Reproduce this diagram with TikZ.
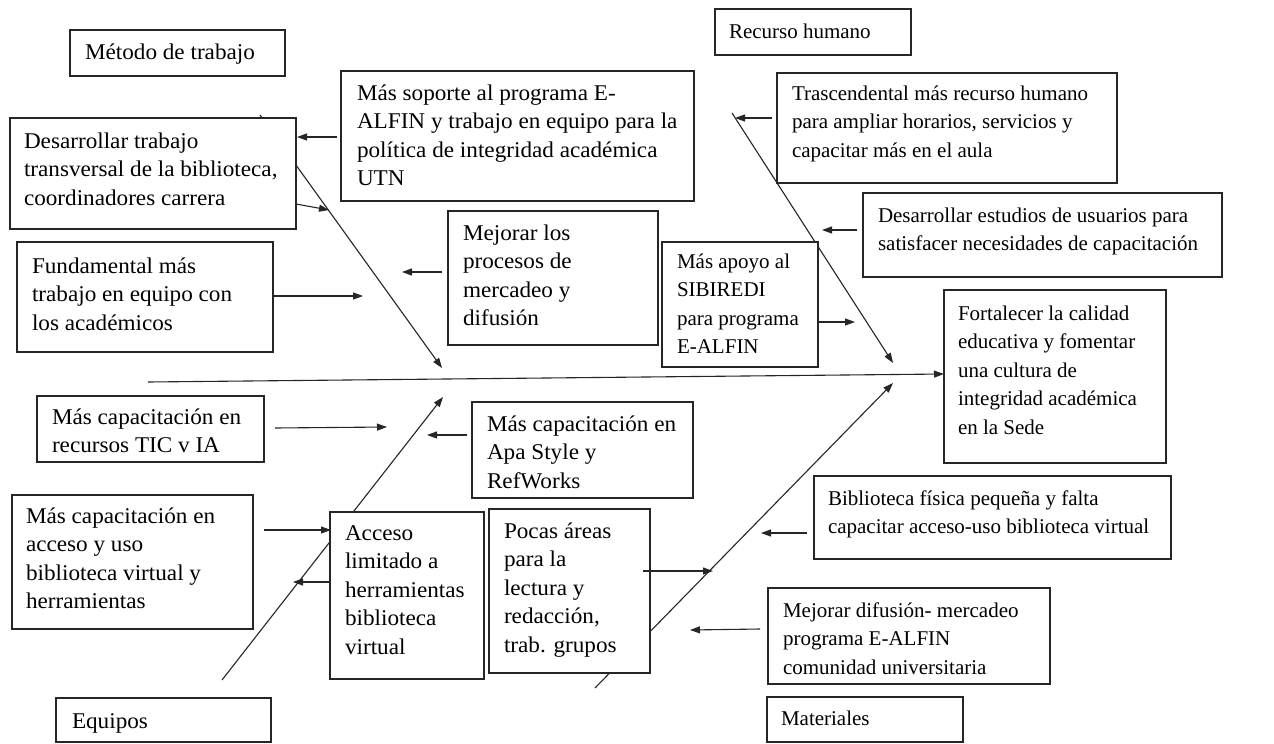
\documentclass[tikz,border=0pt]{standalone}
\usepackage{fontspec}
\setmainfont{Liberation Serif}
\newfontfamily\leftfont[FakeStretch=1.03]{Liberation Serif}
\usetikzlibrary{arrows.meta}
\newcommand\bxt[5]{\parbox[t][#2][t]{#1}{\vspace*{#3}\raggedright\leftskip=#4\relax\strut #5}}
\begin{document}
\begin{tikzpicture}[x=1pt,y=-1pt,
  box/.style={draw=black!85, fill=white, line width=1.1pt, anchor=north west, inner sep=0pt, outer sep=0pt, font=\fontsize{21}{28.6}\selectfont},
  lbox/.style={box, font=\leftfont\fontsize{22.5}{28.6}\selectfont},
  bone/.style={draw=black!85, line width=1.1pt, -{Triangle[length=10pt,width=7pt]}},
  conn/.style={draw=black!85, line width=1.1pt, -{Triangle[length=10pt,width=7pt]}}]
\fill[white] (0,0) rectangle (1274,744);
\useasboundingbox (0,0) rectangle (1274,744);

% spine and bones
\coordinate (sps) at (148,382);
\coordinate (d1s) at (260,115);
\coordinate (d1e) at (442,368);
\coordinate (d2s) at (732,113);
\coordinate (d2e) at (893,363);
\coordinate (d3s) at (222,680);
\coordinate (d3e) at (443,397);
\coordinate (d4s) at (595,688);
\coordinate (d4e) at (893,383);

% boxes
\node[lbox] (metodo) at (70,30) {\bxt{215pt}{46pt}{9pt}{15pt}{Método de trabajo}};
\node[box] (recurso) at (715,9) {\bxt{196pt}{46pt}{9pt}{14pt}{Recurso humano}};
\node[lbox] (equipos) at (56,698) {\bxt{215pt}{44pt}{10pt}{16pt}{Equipos}};
\node[box] (materiales) at (767,697) {\bxt{196pt}{45pt}{8pt}{14pt}{Materiales}};
\node[box] (fortalecer) at (944,290) {\bxt{222pt}{173pt}{10pt}{14pt}{Fortalecer la calidad\\ educativa y fomentar\\ una cultura de\\ integridad académica\\ en la Sede}};

\draw[bone] (sps) -- (fortalecer.west |- 0,374);
\draw[bone] (d1s) -- (d1e);
\draw[bone] (d2s) -- (d2e);
\draw[bone] (d3s) -- (d3e);
\draw[bone] (d4s) -- (d4e);

\node[lbox] (desarrollar) at (10,118) {\bxt{286pt}{111pt}{10pt}{14pt}{Desarrollar trabajo\\ transversal de la biblioteca,\\ coordinadores carrera}};
\node[lbox] (fundamental) at (17,242) {\bxt{256pt}{110pt}{11pt}{15pt}{Fundamental más\\ trabajo en equipo con\\ los académicos}};
\node[lbox] (soporte) at (341,71) {\bxt{353pt}{130pt}{9pt}{16pt}{Más soporte al programa E-\\ ALFIN y trabajo en equipo para la\\ política de integridad académica\\ UTN}};
\node[lbox] (mejorar) at (448,211) {\bxt{210pt}{134pt}{9pt}{15pt}{Mejorar los\\ procesos de\\ mercadeo y\\ difusión}};
\node[box] (apoyo) at (662,242) {\bxt{156pt}{125pt}{6pt}{15pt}{Más apoyo al\\ SIBIREDI\\ para programa\\ E-ALFIN}};
\node[box] (trascendental) at (777,73) {\bxt{340pt}{110pt}{7pt}{15pt}{Trascendental más recurso humano\\ para ampliar horarios, servicios y\\ capacitar más en el aula}};
\node[box] (estudios) at (863,193) {\bxt{359pt}{84pt}{9pt}{15pt}{Desarrollar estudios de usuarios para\\ satisfacer necesidades de capacitación}};
\node[lbox] (tic) at (37,396) {\bxt{227pt}{66pt}{8pt}{15pt}{Más capacitación en\\ recursos TIC v IA}};
\node[lbox] (accesouso) at (12,495) {\bxt{241pt}{134pt}{8pt}{14pt}{Más capacitación en\\ acceso y uso\\ biblioteca virtual y\\ herramientas}};
\node[lbox] (limitado) at (330,512) {\bxt{154pt}{167pt}{8pt}{15pt}{Acceso\\ limitado a\\ herramientas\\ biblioteca\\ virtual}};
\node[lbox] (apa) at (472,402) {\bxt{221pt}{96pt}{9pt}{15pt}{Más capacitación en\\ Apa Style y\\ RefWorks}};
\node[lbox] (pocas) at (489,509) {\bxt{161pt}{164pt}{9pt}{15pt}{Pocas áreas\\ para la\\ lectura y\\ redacción,\\ trab. grupos}};
\node[box] (biblioteca) at (814,476) {\bxt{357pt}{83pt}{9pt}{14pt}{Biblioteca física pequeña y falta\\ capacitar acceso-uso biblioteca virtual}};
\node[box] (difusion) at (768,588) {\bxt{282pt}{96pt}{9pt}{15pt}{Mejorar difusión- mercadeo\\ programa E-ALFIN\\ comunidad universitaria}};

% arrow end points
\coordinate (a1t) at (337,137); \coordinate (a1h) at (297,137);
\coordinate (a2t) at (296,204); \coordinate (a2h) at (329,210);
\coordinate (a3t) at (273,296); \coordinate (a3h) at (363,296);
\coordinate (a4t) at (442,272); \coordinate (a4h) at (402,272);
\coordinate (a5t) at (772,118); \coordinate (a5h) at (735,118);
\coordinate (a6t) at (857,230); \coordinate (a6h) at (822,230);
\coordinate (a7t) at (819,322); \coordinate (a7h) at (855,322);
\coordinate (a8t) at (275,428); \coordinate (a8h) at (387,427);
\coordinate (a9t) at (467,435); \coordinate (a9h) at (427,435);
\coordinate (a10t) at (264,530); \coordinate (a10h) at (331,530);
\coordinate (a11t) at (331,582); \coordinate (a11h) at (293,582);
\coordinate (a12t) at (643,571); \coordinate (a12h) at (713,571);
\coordinate (a13t) at (807,533); \coordinate (a13h) at (761,533);
\coordinate (a14t) at (760,629); \coordinate (a14h) at (690,630);

\foreach \i in {1,...,14} \draw[conn] (a\i t) -- (a\i h);
\end{tikzpicture}
\end{document}
